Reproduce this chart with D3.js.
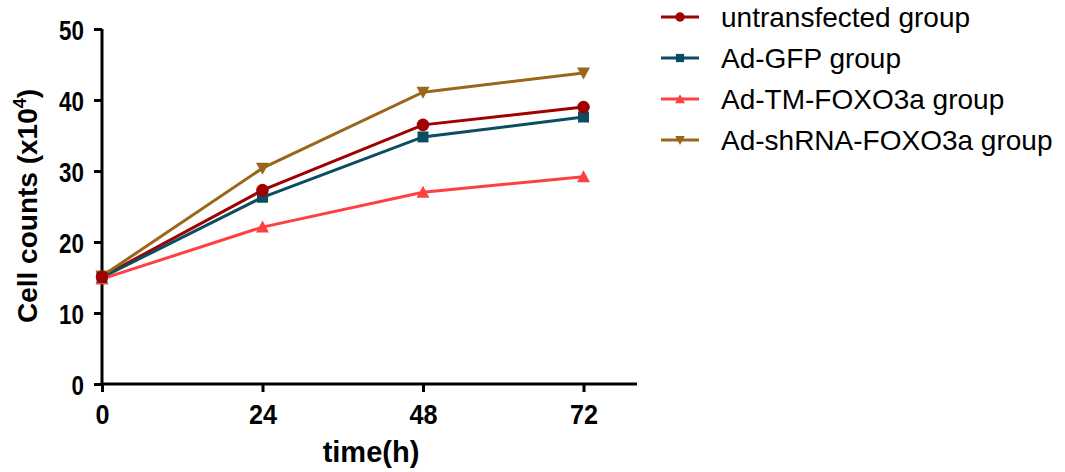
<!DOCTYPE html>
<html>
<head>
<meta charset="utf-8">
<script src="https://cdn.jsdelivr.net/npm/d3@7"></script>
<style>
  body { margin: 0; background: #fff; }
  .tick text { font-family: "Liberation Sans", Arial, sans-serif; font-weight: bold; fill: #000; }
</style>
</head>
<body>
<div id="chart"></div>
<script>
(function(){

const hours = [0, 24, 48, 72];
const untransfected = [15.1, 27.3, 36.5, 39.0];
const adGFP = [15.0, 26.3, 34.8, 37.6];
const adTM = [14.8, 22.1, 27.0, 29.2];
const adShRNA = [15.2, 30.4, 41.1, 43.8];
const yTicks = [0, 10, 20, 30, 40, 50];

const series = [
  { name: "untransfected group", values: untransfected, color: "#a00000", symbol: "circle" },
  { name: "Ad-GFP group", values: adGFP, color: "#0b4d61", symbol: "square" },
  { name: "Ad-TM-FOXO3a group", values: adTM, color: "#ff4040", symbol: "up" },
  { name: "Ad-shRNA-FOXO3a group", values: adShRNA, color: "#9a661c", symbol: "down" }
];

const width = 1065, height = 472;
const svg = d3.select("#chart").append("svg")
  .attr("width", width).attr("height", height);

const x = d3.scaleLinear().domain([0, 80]).range([102, 637]);
const y = d3.scaleLinear().domain([0, 50]).range([384, 29]);

function marker(sym, k) {
  k = k || 1;
  if (sym === "down") return d3.line()([[-6.5*k,-5.5*k],[6.5*k,-5.5*k],[0,6.5*k]]) + "Z";
  if (sym === "up") return d3.line()([[0,-6.5*k],[6.5*k,5.5*k],[-6.5*k,5.5*k]]) + "Z";
  if (sym === "square") return d3.symbol(d3.symbolSquare, 120*k*k)();
  return d3.symbol(d3.symbolCircle, 125*k*k)();
}

// axes
const yAxis = svg.append("g")
  .attr("transform", "translate(102,0)")
  .call(d3.axisLeft(y).tickValues(yTicks).tickSize(8));
const xAxis = svg.append("g")
  .attr("transform", "translate(0,384)")
  .call(d3.axisBottom(x).tickValues(hours).tickSize(8));
[yAxis, xAxis].forEach(a => {
  a.select(".domain").attr("stroke", "#000").attr("stroke-width", 3);
  a.selectAll(".tick line").attr("stroke", "#000").attr("stroke-width", 3);
});
xAxis.select(".domain").attr("d", "M102,0H637");
yAxis.select(".domain").attr("d", "M0,384V29");

// condensed tick labels
const ySx = 0.8;
yAxis.selectAll(".tick text")
  .style("font-size", "28px")
  .attr("x", -18 / ySx).attr("dy", "0.36em")
  .attr("transform", `scale(${ySx},1)`);
xAxis.selectAll(".tick text")
  .style("font-size", "28px")
  .attr("y", 40).attr("dy", 0)
  .attr("transform", "scale(0.9,1)");

// axis titles
svg.append("text")
  .attr("transform", "translate(37,206) rotate(-90)")
  .attr("text-anchor", "middle")
  .style("font-family", "'Liberation Sans', Arial, sans-serif")
  .style("font-weight", "bold").style("font-size", "28px")
  .html('Cell counts (x10<tspan dy="-11" font-size="18px">4</tspan><tspan dy="11">)</tspan>');

svg.append("text")
  .attr("x", 371).attr("y", 462)
  .attr("text-anchor", "middle")
  .style("font-family", "'Liberation Sans', Arial, sans-serif")
  .style("font-weight", "bold").style("font-size", "29px")
  .text("time(h)");

// lines
const line = d3.line().x((d, i) => x(hours[i])).y(d => y(d));
series.forEach(s => {
  svg.append("path")
    .attr("d", line(s.values))
    .attr("fill", "none")
    .attr("stroke", s.color)
    .attr("stroke-width", 3);
});
// markers
series.slice().reverse().forEach(s => {
  svg.append("g").selectAll("path")
    .data(s.values)
    .join("path")
    .attr("transform", (d, i) => `translate(${x(hours[i])},${y(d)})`)
    .attr("d", marker(s.symbol))
    .attr("fill", s.color);
});

// legend
const legend = svg.append("g").attr("transform", "translate(661,17)");
series.forEach((s, i) => {
  const g = legend.append("g").attr("transform", `translate(0,${i * 41})`);
  g.append("line").attr("x1", 0).attr("x2", 38).attr("y1", 0).attr("y2", 0)
    .attr("stroke", s.color).attr("stroke-width", 3);
  g.append("path").attr("transform", "translate(19,0)")
    .attr("d", marker(s.symbol, 0.75)).attr("fill", s.color);
  g.append("text").attr("x", 60).attr("y", 0).attr("dy", "0.36em")
    .style("font-family", "'Liberation Sans', Arial, sans-serif")
    .style("font-size", "28px").attr("fill", "#000")
    .text(s.name);
});

})();
</script>
</body>
</html>
